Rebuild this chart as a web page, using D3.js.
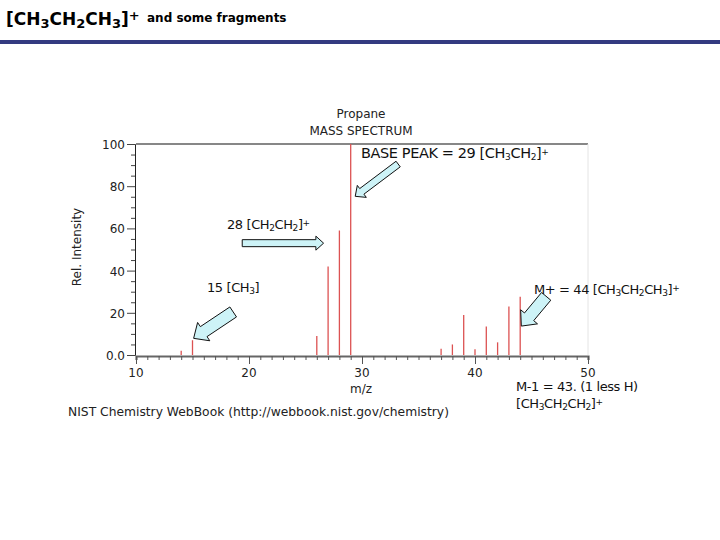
<!DOCTYPE html>
<html>
<head>
<meta charset="utf-8">
<script src="https://cdn.jsdelivr.net/npm/d3@7"></script>
<style>
  body { margin: 0; background: #fff; }
  svg text { font-family: "DejaVu Sans", sans-serif; }
</style>
</head>
<body>
<div class="svg-container"></div>
<script>
// peaks
var mz = [14, 15, 26, 27, 28, 29, 37, 38, 39, 40, 41, 42, 43, 44];
var intensity = [2, 7, 9, 42, 59, 100, 3, 5, 19, 2.7, 13.5, 6, 23, 27.6];
var xTicks = [10, 20, 30, 40, 50];
var yTicks = [0, 20, 40, 60, 80, 100];
var yTickLabels = ['0.0', '20', '40', '60', '80', '100'];

// annotation arrows: tail and tip in data units (m/z, intensity)
var arrowTail = [[33.2, 90.5], [19.4, 53], [18.6, 20.4], [46.3, 27.8]];
var arrowTip = [[29.4, 75.2], [26.6, 53], [15.1, 7.9], [44.1, 13.7]];
var arrowShaft = [7, 7, 12, 12];
var arrowHead = [15, 14, 22, 22];

var svg = d3.select('.svg-container').append('svg')
  .attr('width', 720)
  .attr('height', 540);

var x = d3.scaleLinear().domain([10, 50]).range([136, 588]);
var y = d3.scaleLinear().domain([0, 100]).range([355, 144]);

// chemical formulas with subscripts: parts = [[text, 'sub'|'sup'?], ...]
function formula(sel, parts, subSize) {
  parts.forEach(function (p) {
    var t = sel.append('tspan').text(p[0]);
    if (p[1] === 'sub') t.attr('baseline-shift', '-25%').style('font-size', subSize);
    if (p[1] === 'sup') t.attr('baseline-shift', '35%').style('font-size', subSize);
  });
  return sel;
}

// slide header
formula(svg.append('text').attr('x', 6).attr('y', 25)
  .style('font-size', '17px').style('font-weight', 'bold'),
  [['[CH'], ['3', 'sub'], ['CH'], ['2', 'sub'], ['CH'], ['3', 'sub'], [']'], ['+', 'sup']], '13px');
svg.append('text').attr('x', 147).attr('y', 22)
  .style('font-size', '12px').style('font-weight', 'bold')
  .text('and some fragments');
svg.append('rect').attr('x', 0).attr('y', 40).attr('width', 720).attr('height', 4)
  .attr('fill', '#333a80');

// chart titles
svg.append('text').attr('x', 361).attr('y', 118).attr('text-anchor', 'middle')
  .style('font-size', '12px').attr('fill', '#222').text('Propane');
svg.append('text').attr('x', 361).attr('y', 135).attr('text-anchor', 'middle')
  .style('font-size', '12px').attr('fill', '#222').text('MASS SPECTRUM');

// frame
svg.append('line').attr('x1', x(10)).attr('x2', x(50)).attr('y1', y(100)).attr('y2', y(100))
  .attr('stroke', '#111').attr('stroke-width', 1.2);
svg.append('line').attr('x1', x(50)).attr('x2', x(50)).attr('y1', y(100)).attr('y2', y(0))
  .attr('stroke', '#e4e4e4');

// y axis
var yAxis = svg.append('g').attr('transform', 'translate(' + (x(10) - 1) + ',0)')
  .call(d3.axisLeft(y).tickValues(d3.range(0, 101, 5)).tickSize(3).tickFormat(''));
yAxis.select('.domain').attr('stroke', '#222');
yAxis.selectAll('.tick line').attr('stroke', '#444')
  .attr('x2', function (d) { return d % 20 === 0 ? -8 : -4; });
svg.selectAll('.ylab').data(yTicks).enter().append('text')
  .attr('class', 'ylab')
  .attr('x', x(10) - 11).attr('y', function (d) { return y(d) + 5; })
  .attr('text-anchor', 'end').style('font-size', '12px').attr('fill', '#222')
  .text(function (d, i) { return yTickLabels[i]; });
svg.append('text').attr('transform', 'translate(81,247) rotate(-90)')
  .attr('text-anchor', 'middle').style('font-size', '12px').attr('fill', '#222')
  .text('Rel. Intensity');

// peaks
svg.selectAll('.peak').data(mz).enter().append('line')
  .attr('class', 'peak')
  .attr('x1', function (d) { return x(d); }).attr('x2', function (d) { return x(d); })
  .attr('y1', y(0)).attr('y2', function (d, i) { return y(intensity[i]); })
  .attr('stroke', '#dc5252').attr('stroke-width', 1.3);

// x axis
var xAxis = svg.append('g').attr('transform', 'translate(0,' + (y(0) + 1) + ')')
  .call(d3.axisBottom(x).tickValues(d3.range(10, 51, 1)).tickSize(4).tickFormat(''));
xAxis.select('.domain').attr('stroke', '#666').attr('stroke-width', 2.2);
xAxis.selectAll('.tick line').attr('stroke', '#555')
  .attr('y2', function (d) { return d % 10 === 0 ? 8 : 4; });
svg.selectAll('.xlab').data(xTicks).enter().append('text')
  .attr('class', 'xlab')
  .attr('x', function (d) { return x(d); }).attr('y', 377)
  .attr('text-anchor', 'middle').style('font-size', '12px').attr('fill', '#222')
  .text(function (d) { return d; });
svg.append('text').attr('x', 361).attr('y', 393).attr('text-anchor', 'middle')
  .style('font-size', '12px').attr('fill', '#222').text('m/z');
svg.append('text').attr('x', 68).attr('y', 416)
  .style('font-size', '12.3px').attr('fill', '#222')
  .text('NIST Chemistry WebBook (http://webbook.nist.gov/chemistry)');

// block arrows
function arrowPath(i) {
  var x0 = x(arrowTail[i][0]), y0 = y(arrowTail[i][1]);
  var x1 = x(arrowTip[i][0]), y1 = y(arrowTip[i][1]);
  var len = Math.hypot(x1 - x0, y1 - y0);
  var ang = Math.atan2(y1 - y0, x1 - x0);
  var w = arrowShaft[i] / 2, h = arrowHead[i] / 2, hl = h * 1.1;
  var pts = [[0, -w], [len - hl, -w], [len - hl, -h], [len, 0], [len - hl, h], [len - hl, w], [0, w]];
  return 'M' + pts.map(function (p) {
    return [x0 + p[0] * Math.cos(ang) - p[1] * Math.sin(ang),
            y0 + p[0] * Math.sin(ang) + p[1] * Math.cos(ang)].join(',');
  }).join('L') + 'Z';
}
svg.selectAll('.arrow').data(arrowTail).enter().append('path')
  .attr('class', 'arrow')
  .attr('d', function (d, i) { return arrowPath(i); })
  .attr('fill', '#cdf3f7').attr('stroke', '#111').attr('stroke-width', 1);

// annotations
function annText(xp, yp, parts, size) {
  var t = svg.append('text').attr('x', xp).attr('y', yp)
    .style('font-size', size || '13px').attr('fill', '#111').style('letter-spacing', '-0.4px');
  return formula(t, parts, '9px');
}
annText(361, 158, [['BASE PEAK = 29 [CH'], ['3', 'sub'], ['CH'], ['2', 'sub'], [']'], ['+', 'sup']], '14.5px');
annText(227, 229, [['28 [CH'], ['2', 'sub'], ['CH'], ['2', 'sub'], [']'], ['+', 'sup']]);
annText(207, 292, [['15 [CH'], ['3', 'sub'], [']']]);
annText(534, 294, [['M+ = 44 [CH'], ['3', 'sub'], ['CH'], ['2', 'sub'], ['CH'], ['3', 'sub'], [']'], ['+', 'sup']]);
annText(516, 391, [['M-1 = 43. (1 less H)']]);
annText(516, 408, [['[CH'], ['3', 'sub'], ['CH'], ['2', 'sub'], ['CH'], ['2', 'sub'], [']'], ['+', 'sup']]);
</script>
</body>
</html>
